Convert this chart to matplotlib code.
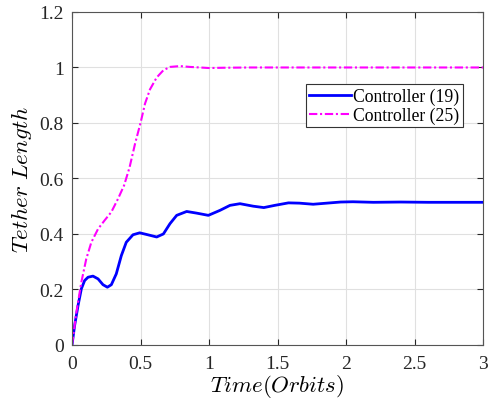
import numpy as np
import matplotlib
matplotlib.use('Agg')
import matplotlib.pyplot as plt

# values
t_19 = [0, 0.019, 0.044, 0.068, 0.092, 0.117, 0.153, 0.19, 0.226, 0.258, 0.287,
        0.323, 0.36, 0.396, 0.445, 0.494, 0.545, 0.618, 0.667, 0.715, 0.764,
        0.837, 0.91, 0.995, 1.08, 1.153, 1.226, 1.323, 1.40, 1.48, 1.58, 1.66,
        1.76, 1.86, 1.96, 2.05, 2.2, 2.4, 2.6, 2.8, 3.0]
len_19 = [0, 0.070, 0.142, 0.202, 0.232, 0.244, 0.248, 0.238, 0.217, 0.208, 0.217,
          0.256, 0.322, 0.37, 0.397, 0.404, 0.398, 0.389, 0.400, 0.437, 0.467,
          0.481, 0.475, 0.467, 0.485, 0.503, 0.509, 0.500, 0.495, 0.503, 0.512, 0.511,
          0.507, 0.511, 0.515, 0.516, 0.514, 0.515, 0.514, 0.514, 0.514]

t_25 = [0, 0.032, 0.068, 0.104, 0.141, 0.19, 0.238, 0.287, 0.336, 0.38, 0.42,
        0.46, 0.50, 0.533, 0.569, 0.618, 0.667, 0.715, 0.788, 0.861, 0.934,
        1.0, 1.1, 1.3, 3.0]
len_25 = [0, 0.118, 0.226, 0.31, 0.37, 0.418, 0.449, 0.479, 0.527, 0.575, 0.64,
          0.725, 0.80, 0.87, 0.921, 0.964, 0.99, 1.002, 1.005, 1.002, 1.0,
          0.998, 0.999, 1.0, 1.0]

plt.rcParams['font.family'] = ['Liberation Serif', 'DejaVu Serif']
plt.rcParams['mathtext.fontset'] = 'cm'

fig = plt.figure(figsize=(4.95, 4.06), dpi=100)
ax = fig.add_axes([0.1455, 0.148, 0.8303, 0.82])

ax.plot(t_19, len_19, color='#0000ff', lw=2, solid_joinstyle='round',
        label='Controller (19)')
ax.plot(t_25, len_25, color='#ff00ff', lw=1.5, dashes=(4, 1.3, 1, 1.3),
        dash_joinstyle='round', label='Controller (25)')

ax.set_xlim(0, 3)
ax.set_ylim(0, 1.2)
ax.set_xticks([0, 0.5, 1, 1.5, 2, 2.5, 3])
ax.set_xticklabels(['0', '0.5', '1', '1.5', '2', '2.5', '3'])
ax.set_yticks([0, 0.2, 0.4, 0.6, 0.8, 1, 1.2])
ax.set_yticklabels(['0', '0.2', '0.4', '0.6', '0.8', '1', '1.2'])
ax.tick_params(direction='in', top=True, right=True, labelsize=14,
               colors='#262626', length=4)
ax.tick_params(axis='x', pad=7)
ax.tick_params(axis='y', pad=6)
ax.grid(True, color='#e0e0e0', lw=0.8)
for s in ax.spines.values():
    s.set_color('#555555')

ax.set_xlabel(r'$Time(Orbits)$', fontsize=16.5, labelpad=0)
ax.set_ylabel(r'$Tether\ Length$', fontsize=16.5, labelpad=4)

leg = ax.legend(loc='upper right', bbox_to_anchor=(0.951, 0.784), fontsize=12.7,
                fancybox=False, framealpha=1, edgecolor='#333333',
                handlelength=2.4, handletextpad=0.1, borderpad=0.2,
                labelspacing=0.1, borderaxespad=0)
leg.get_frame().set_linewidth(0.8)

fig.savefig('out.png', dpi=100)
